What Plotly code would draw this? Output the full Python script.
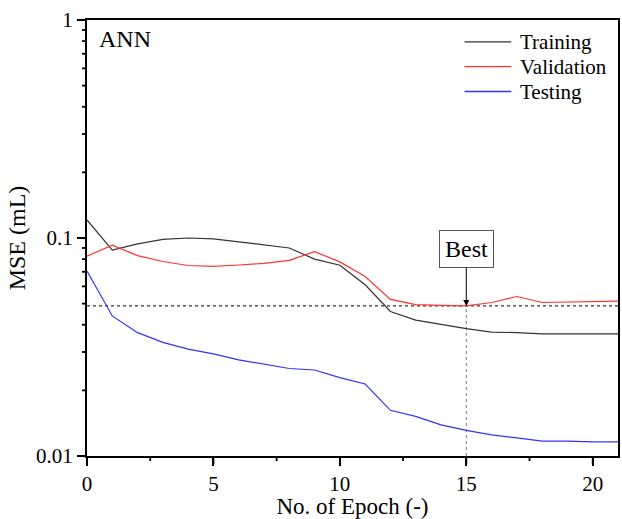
import numpy as np
import plotly.graph_objects as go

epochs = list(range(22))
training = [0.121, 0.088, 0.094, 0.0985, 0.100, 0.099, 0.096, 0.093, 0.090, 0.080, 0.075, 0.061,
            0.046, 0.042, 0.040, 0.0384, 0.037, 0.0368, 0.0363, 0.0363, 0.0363, 0.0363]
validation = [0.0826, 0.0927, 0.083, 0.078, 0.0748, 0.0741, 0.0752, 0.0765, 0.0789, 0.0866, 0.0777, 0.0666,
              0.0523, 0.0495, 0.0491, 0.0488, 0.0506, 0.0539, 0.0506, 0.0508, 0.051, 0.0513]
testing = [0.0705, 0.0439, 0.0368, 0.0332, 0.0309, 0.0294, 0.0276, 0.0263, 0.0252, 0.0248, 0.0229, 0.0214,
           0.0162, 0.0152, 0.0139, 0.0131, 0.0125, 0.0121, 0.0117, 0.0117, 0.0116, 0.0116]
series_names = ["Training", "Validation", "Testing"]
series_colors = ["#333333", "#ff3333", "#3333ff"]
best_epoch = 15
best_val = validation[best_epoch]

x_ticks = [0, 5, 10, 15, 20]
x_minor = [2.5, 7.5, 12.5, 17.5]
y_ticks = [0.01, 0.1, 1]
y_ticktext = ["0.01", "0.1", "1"]
y_minor = [m * 10.0 ** e for e in (-2, -1) for m in range(2, 10)]

X_RANGE = [0, 21]
Y_RANGE_LOG = [-2, 0]

FONT = "Liberation Serif"

fig = go.Figure()
fig.add_trace(go.Scatter(x=[0, 21], y=[best_val, best_val], mode="lines",
                         line=dict(color="#333333", width=1.2, dash="3px,3px"), showlegend=False, hoverinfo="skip"))
fig.add_trace(go.Scatter(x=[best_epoch, best_epoch], y=[0.01, best_val], mode="lines",
                         line=dict(color="#777777", width=1, dash="3px,3px"), showlegend=False, hoverinfo="skip"))
for name, vals, col in zip(series_names, [training, validation, testing], series_colors):
    fig.add_trace(go.Scatter(x=epochs, y=vals, mode="lines", name=name,
                             line=dict(color=col, width=1.2), showlegend=False))

shapes = []
annotations = []

# tick marks drawn explicitly in paper space (so they are not clipped to the plot area)
def xfrac(v):
    return (v - X_RANGE[0]) / (X_RANGE[1] - X_RANGE[0])

def yfrac(v):
    return (np.log10(v) - Y_RANGE_LOG[0]) / (Y_RANGE_LOG[1] - Y_RANGE_LOG[0])

for v, ln in [(t, 8) for t in x_ticks] + [(t, 5) for t in x_minor]:
    shapes.append(dict(type="line", xref="paper", yref="paper", ysizemode="pixel", yanchor=0,
                       x0=xfrac(v), x1=xfrac(v), y0=0, y1=-ln, line=dict(color="black", width=1.8)))
for v, ln in [(t, 8) for t in y_ticks] + [(t, 5) for t in y_minor]:
    shapes.append(dict(type="line", xref="paper", yref="paper", xsizemode="pixel", xanchor=0,
                       y0=yfrac(v), y1=yfrac(v), x0=0, x1=-ln, line=dict(color="black", width=1.8)))

legend_rows = [0.950, 0.893, 0.836]
for name, col, ry in zip(series_names, series_colors, legend_rows):
    shapes.append(dict(type="line", xref="paper", yref="paper", x0=0.711, x1=0.799, y0=ry, y1=ry,
                       line=dict(color=col, width=1.3)))
    annotations.append(dict(x=0.812, y=ry, xref="paper", yref="paper", text=name, showarrow=False,
                            xanchor="left", yanchor="middle", font=dict(size=21, family=FONT, color="black")))

annotations.append(dict(x=0.018, y=0.99, xref="paper", yref="paper", text="ANN", showarrow=False,
                        xanchor="left", yanchor="top", font=dict(size=24, family=FONT)))
annotations.append(dict(x=best_epoch, y=np.log10(best_val), xref="x", yref="y", text="Best", showarrow=True,
                        ax=0, ay=-57, arrowhead=2, arrowsize=1.2, arrowwidth=1, arrowcolor="black",
                        bordercolor="#555555", borderwidth=1, borderpad=5, bgcolor="white",
                        font=dict(size=24, family=FONT)))

fig.update_layout(
    width=622, height=519,
    margin=dict(l=87, r=2, t=20, b=62),
    paper_bgcolor="white", plot_bgcolor="white",
    font=dict(family=FONT, size=21, color="black"),
    showlegend=False,
    xaxis=dict(range=X_RANGE, tickmode="array", tickvals=x_ticks, ticks="outside", ticklen=8, tickwidth=2,
               tickcolor="black", tickfont=dict(size=21, family=FONT, color="black"),
               showline=True, linecolor="black", linewidth=2, mirror=True, showgrid=False, zeroline=False,
               title=dict(text="No. of Epoch (-)", standoff=5, font=dict(size=23, family=FONT))),
    yaxis=dict(type="log", range=Y_RANGE_LOG, tickmode="array", tickvals=y_ticks, ticktext=y_ticktext,
               ticks="outside", ticklen=8, tickwidth=2, tickcolor="black",
               tickfont=dict(size=21, family=FONT, color="black"),
               showline=True, linecolor="black", linewidth=2, mirror=True,
               showgrid=False, zeroline=False,
               title=dict(text="MSE (mL)", standoff=4, font=dict(size=24, family=FONT))),
    shapes=shapes,
    annotations=annotations,
)

fig.write_html("out.html")
